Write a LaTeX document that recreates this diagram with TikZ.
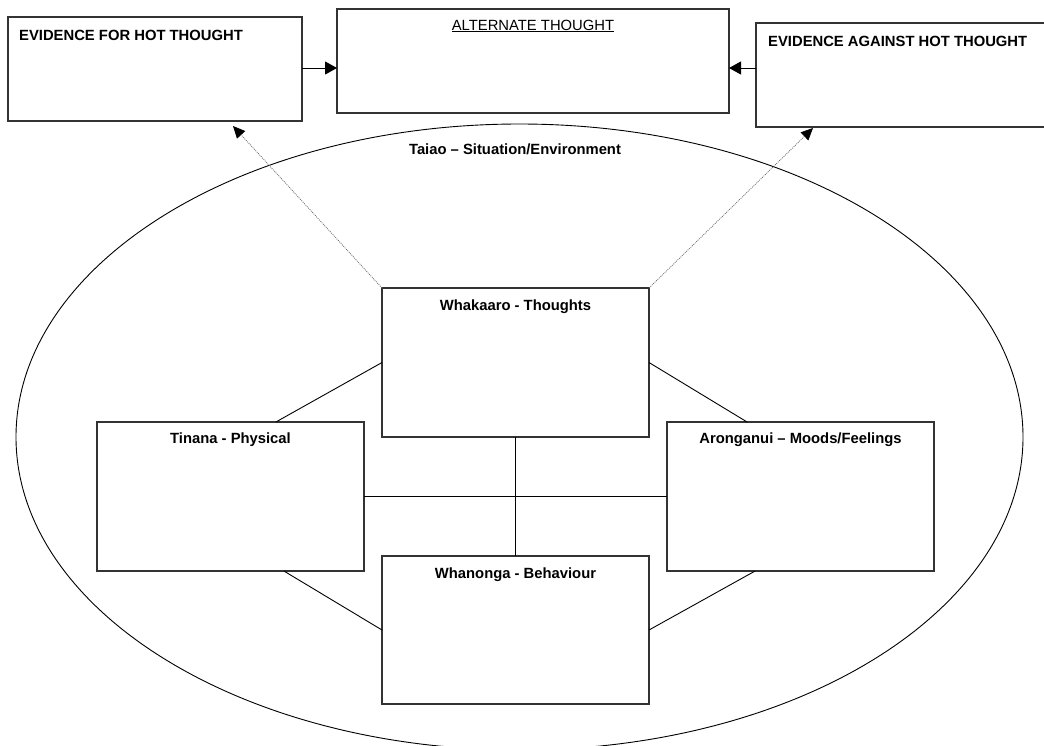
\documentclass[tikz,border=0pt]{standalone}
\usepackage{fontspec}
\setmainfont{Liberation Sans}
\usetikzlibrary{shapes.geometric,arrows.meta,calc}
\begin{document}
\begin{tikzpicture}[x=1pt,y=-1pt,
  box/.style={draw=black!80, fill=white, line width=1.1pt, inner sep=0pt, outer sep=0pt},
  lbl/.style={inner sep=0pt, font=\fontsize{14.8}{17}\selectfont\bfseries},
  plainlbl/.style={inner sep=0pt, font=\fontsize{14.8}{17}\selectfont},
  link/.style={draw=black, line width=0.9pt},
  solidarrow/.style={draw=black, line width=1pt, -{Triangle[length=12pt,width=13pt]}},
  dotarrow/.style={draw=black!60, line width=0.7pt, dash pattern=on 1pt off 1pt,
    -{Triangle[length=12pt,width=11pt,color=black,fill=black]}}]
\useasboundingbox (0,0) rectangle (1044,745);
\fill[white] (0,0) rectangle (1044,745);

% environment ellipse
\node[ellipse, draw=black, line width=0.9pt, inner sep=0pt, outer sep=0pt,
      minimum width=1007pt, minimum height=626pt] (env) at (519.5,437) {};
\node[lbl, anchor=base] (envlbl) at (515,154) {Taiao – Situation/Environment};

% top row: evidence and alternate thought
\node[box, minimum width=294pt, minimum height=104pt] (for) at (155,69) {};
\node[box, minimum width=392pt, minimum height=104pt] (alt) at (533,61) {};
\node[box, minimum width=300pt, minimum height=104pt] (against) at (906,75) {};
\node[lbl, anchor=base west] (forlbl) at (19,40) {EVIDENCE FOR HOT THOUGHT};
\node[plainlbl, anchor=base] (altlbl) at (533,30) {\underline{ALTERNATE THOUGHT}};
\node[lbl, anchor=base west] (againstlbl) at (768,46) {EVIDENCE AGAINST HOT THOUGHT};

\coordinate (forout) at ($(for.north east)+(0,51)$);
\coordinate (againstout) at ($(against.north west)+(0,45)$);
\draw[solidarrow] (forout) -- (forout -| alt.west);
\draw[solidarrow] (againstout) -- (againstout -| alt.east);

% the four areas
\node[box, minimum width=267pt, minimum height=149pt] (thoughts) at (515.5,362.5) {};
\node[box, minimum width=267pt, minimum height=149pt] (physical) at (230.5,496.5) {};
\node[box, minimum width=267pt, minimum height=149pt] (moods) at (800.5,496.5) {};
\node[box, minimum width=267pt, minimum height=148pt] (behaviour) at (515.5,630) {};
\node[lbl, anchor=base] (thoughtslbl) at (515.5,310) {Whakaaro - Thoughts};
\node[lbl, anchor=base] (physicallbl) at (230.5,443) {Tinana - Physical};
\node[lbl, anchor=base] (moodslbl) at (800.5,443) {Aronganui – Moods/Feelings};
\node[lbl, anchor=base] (behaviourlbl) at (515.5,578) {Whanonga - Behaviour};

% links between the areas
\draw[link] (thoughts.west) -- ($(physical.north west)!0.67!(physical.north east)$);
\draw[link] (thoughts.east) -- ($(moods.north west)!0.30!(moods.north east)$);
\draw[link] (thoughts.south) -- (behaviour.north);
\draw[link] (physical.east) -- (moods.west);
\draw[link] ($(physical.south west)!0.70!(physical.south east)$) -- (behaviour.west);
\draw[link] ($(moods.south west)!0.33!(moods.south east)$) -- (behaviour.east);

% dotted links from thoughts to the evidence boxes
\coordinate (fortip) at (233,126);
\coordinate (againsttip) at (813,128);
\draw[dotarrow] (thoughts.north west) -- (fortip);
\draw[dotarrow] (thoughts.north east) -- (againsttip);
\end{tikzpicture}
\end{document}
